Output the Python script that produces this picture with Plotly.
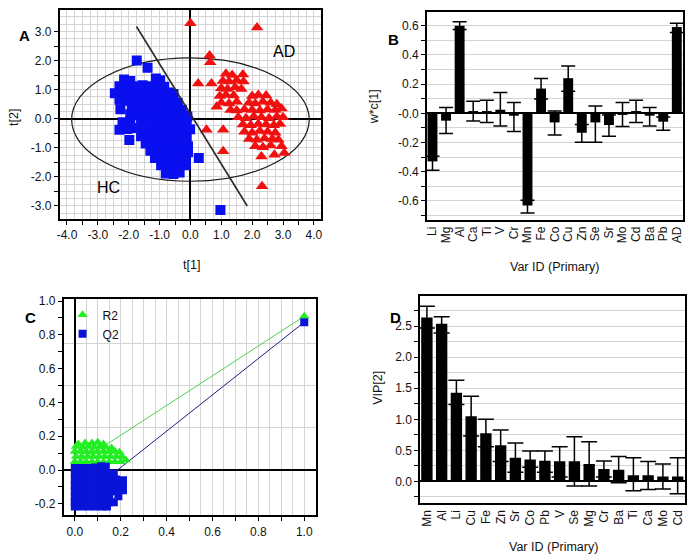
import plotly.graph_objects as go

W, H = 692, 558

# ---------------- Panel A: score plot ----------------
hc_x = [-2.15, -1.95, -1.12, -0.98,
        -2.3, -2.05, -1.8, -1.55, -1.3, -1.05, -0.85,
        -2.45, -2.2, -1.95, -1.7, -1.45, -1.2, -0.95, -0.7, -0.55,
        -2.3, -2.05, -1.8, -1.55, -1.3, -1.05, -0.8, -0.55, -0.42,
        -1.9, -1.65, -1.4, -1.15, -0.9, -0.65, -0.4, -0.28,
        -1.95, -1.7, -1.45, -1.2, -0.95, -0.7, -0.45, -0.2,
        -2.2, -1.95, -1.6, -1.35, -1.1, -0.85, -0.6, -0.35, -0.12,
        -2.3, -2.05, -1.75, -1.5, -1.25, -1.0, -0.75, -0.5, -0.25,
        -1.6, -1.35, -1.1, -0.85, -0.6, -0.35, -0.12,
        -1.45, -1.2, -0.95, -0.7, -0.45, -0.2, -0.08,
        -1.3, -1.05, -0.8, -0.55, -0.3, -0.08,
        -1.15, -0.9, -0.65, -0.4, -0.15,
        -0.95, -0.7, -0.45, -0.15,
        -0.8, -0.55, -0.35,
        -1.74, -1.39, -2.27, -1.98, 0.27, 0.97, -0.01, -0.1]
hc_y = [1.35, 1.3, 1.38, 1.32,
        1.12, 1.15, 1.12, 1.15, 1.12, 1.15, 1.1,
        0.88, 0.92, 0.9, 0.88, 0.92, 0.9, 0.88, 0.9, 0.85,
        0.65, 0.62, 0.66, 0.64, 0.66, 0.62, 0.65, 0.62, 0.55,
        0.42, 0.38, 0.4, 0.42, 0.38, 0.4, 0.36, 0.3,
        0.15, 0.12, 0.15, 0.18, 0.12, 0.15, 0.12, 0.1,
        -0.12, -0.1, -0.08, -0.12, -0.1, -0.08, -0.12, -0.1, -0.08,
        -0.38, -0.35, -0.32, -0.36, -0.34, -0.38, -0.35, -0.32, -0.36,
        -0.6, -0.62, -0.58, -0.6, -0.62, -0.58, -0.6,
        -0.85, -0.88, -0.85, -0.82, -0.88, -0.85, -0.95,
        -1.1, -1.12, -1.08, -1.1, -1.12, -1.15,
        -1.35, -1.38, -1.32, -1.36, -1.38,
        -1.6, -1.62, -1.58, -1.6,
        -1.88, -1.9, -1.85,
        2.0, 1.75, 0.33, -0.73, -1.35, -3.14, -0.36, 0.08]

ad_x = [0.0, 2.16, 0.62, 0.64, 0.25, 0.68, 0.52, 1.06, 1.06, 2.32, 0.85,
        1.15, 1.35, 1.7,
        1.05, 1.25, 1.5, 1.72,
        1.0, 1.2, 1.45, 1.65,
        0.95, 1.15, 1.4, 2.0, 2.2, 2.45,
        1.0, 1.25, 1.5, 1.9, 2.1, 2.35, 2.6, 2.8,
        1.3, 1.5, 1.75, 2.0, 2.25, 2.5, 2.75, 2.95,
        1.55, 1.8, 2.05, 2.3, 2.55, 2.8, 3.0,
        1.7, 1.95, 2.2, 2.45, 2.7, 2.9,
        1.75, 2.0, 2.25, 2.5, 2.75,
        1.9, 2.15, 2.4, 2.65, 2.85,
        2.1, 2.35, 2.6, 2.95,
        2.3, 2.72, 3.04]
ad_y = [3.28, 3.14, 2.17, 1.94, 1.21, 1.21, -0.38, -0.38, -1.12, -2.32, 0.41,
        1.55, 1.5, 1.52,
        1.3, 1.28, 1.32, 1.28,
        1.05, 1.02, 1.08, 1.02,
        0.78, 0.82, 0.8, 0.78, 0.82, 0.8,
        0.55, 0.52, 0.58, 0.55, 0.52, 0.58, 0.55, 0.5,
        0.3, 0.28, 0.32, 0.3, 0.28, 0.32, 0.3, 0.35,
        0.05, 0.02, 0.08, 0.05, 0.02, 0.08, 0.05,
        -0.2, -0.22, -0.18, -0.2, -0.22, -0.18,
        -0.45, -0.48, -0.42, -0.45, -0.48,
        -0.7, -0.72, -0.68, -0.7, -0.72,
        -0.95, -0.98, -0.92, -0.95,
        -1.3, -1.24, -1.18]

ellipse_x = [-3.85, 3.85]
ellipse_y = [-2.15, 2.09]
sep_x = [-1.75, 1.84]
sep_y = [3.17, -3.0]

# ---------------- Panel B: w*c[1] ----------------
b_cats = ["Li", "Mg", "Al", "Ca", "Ti", "V", "Cr", "Mn", "Fe", "Co", "Cu",
          "Zn", "Se", "Sr", "Mo", "Cd", "Ba", "Pb", "AD"]
b_vals = [-0.329, -0.05, 0.6, 0.016, 0.016, 0.025, -0.016, -0.632, 0.17, -0.062,
          0.241, -0.133, -0.062, -0.08, -0.006, 0.016, -0.016, -0.057, 0.591]
b_err_plus = [0.035, 0.091, 0.028, 0.067, 0.074, 0.118, 0.09, 0.037, 0.069, 0.078,
              0.083, 0.057, 0.112, 0.069, 0.08, 0.074, 0.056, 0.032, 0.027]
b_err_minus = [0.06, 0.088, 0.025, 0.069, 0.078, 0.112, 0.108, 0.051, 0.071, 0.087,
               0.089, 0.065, 0.136, 0.076, 0.084, 0.078, 0.071, 0.058, 0.037]

# ---------------- Panel C: permutation test ----------------
r2_x = [1.0,
        0.0, 0.025, 0.05, 0.075, 0.1, 0.125, 0.15, 0.175, 0.2, 0.222,
        0.005, 0.03, 0.055, 0.08, 0.105, 0.13, 0.155, 0.18, 0.205,
        0.0, 0.025, 0.05, 0.075, 0.1, 0.125, 0.15, 0.175, 0.195,
        0.005, 0.035, 0.06, 0.085, 0.11, 0.135, 0.16,
        0.015, 0.045, 0.075, 0.1, 0.125]
r2_y = [0.91,
        0.05, 0.05, 0.05, 0.05, 0.05, 0.05, 0.05, 0.05, 0.05, 0.06,
        0.08, 0.08, 0.08, 0.08, 0.08, 0.08, 0.08, 0.08, 0.08,
        0.11, 0.11, 0.11, 0.11, 0.11, 0.11, 0.11, 0.11, 0.105,
        0.14, 0.135, 0.14, 0.135, 0.14, 0.135, 0.13,
        0.155, 0.16, 0.16, 0.165, 0.155]
q2_x = [1.0,
        0.0, 0.03, 0.06, 0.09, 0.115, 0.135,
        0.0, 0.03, 0.06, 0.09, 0.12, 0.15, 0.17,
        0.0, 0.03, 0.06, 0.09, 0.12, 0.15, 0.18, 0.21,
        0.0, 0.03, 0.06, 0.09, 0.12, 0.15, 0.18, 0.21,
        0.0, 0.03, 0.06, 0.09, 0.12, 0.15, 0.18, 0.21,
        0.0, 0.03, 0.06, 0.09, 0.12, 0.15, 0.19,
        0.0, 0.03, 0.06, 0.09, 0.12, 0.15, 0.17,
        0.0, 0.03, 0.06, 0.09, 0.12, 0.14]
q2_y = [0.875,
        0.012, 0.012, 0.012, 0.015, 0.022, 0.02,
        -0.02, -0.02, -0.02, -0.02, -0.02, -0.02, -0.02,
        -0.055, -0.055, -0.055, -0.055, -0.055, -0.055, -0.055, -0.06,
        -0.09, -0.09, -0.09, -0.09, -0.09, -0.09, -0.09, -0.09,
        -0.125, -0.125, -0.125, -0.125, -0.125, -0.125, -0.125, -0.12,
        -0.16, -0.16, -0.16, -0.16, -0.16, -0.16, -0.155,
        -0.19, -0.19, -0.19, -0.19, -0.19, -0.19, -0.19,
        -0.215, -0.215, -0.215, -0.215, -0.215, -0.215]
r2_line_x = [0.0, 1.0]
r2_line_y = [0.03, 0.91]
q2_line_x = [0.0, 1.0]
q2_line_y = [-0.2, 0.875]

# ---------------- Panel D: VIP ----------------
d_cats = ["Mn", "Al", "Li", "Cu", "Fe", "Zn", "Sr", "Co", "Pb", "V", "Se",
          "Mg", "Cr", "Ba", "Ti", "Ca", "Mo", "Cd"]
d_vals = [2.64, 2.54, 1.43, 1.05, 0.775, 0.584, 0.38, 0.355, 0.335, 0.325, 0.325,
          0.28, 0.2, 0.19, 0.1, 0.1, 0.08, 0.08]
d_err_plus = [0.18, 0.11, 0.2, 0.32, 0.225, 0.246, 0.24, 0.135, 0.155, 0.235, 0.395,
              0.36, 0.13, 0.21, 0.28, 0.22, 0.2, 0.3]
d_err_minus = [0.17, 0.15, 0.19, 0.32, 0.215, 0.264, 0.23, 0.125, 0.185, 0.255, 0.4,
               0.355, 0.13, 0.21, 0.25, 0.23, 0.2, 0.28]

# ---------------- layout helpers ----------------
FONT = "Liberation Sans, Arial, sans-serif"
TXT = "#111111"
GRID = "#d4d4d4"


def dom_x(a, b):
    return [a / W, b / W]


def dom_y(top, bottom):
    return [1 - bottom / H, 1 - top / H]


def px(x):
    return x / W


def py(y):
    return 1 - y / H


def fmt1(v):
    return f"{v:.1f}"


fig = go.Figure()

# Panel A traces
fig.add_trace(go.Scatter(x=hc_x, y=hc_y, mode="markers", xaxis="x", yaxis="y",
                         marker=dict(symbol="square", size=10, color="#0a0ff0", line=dict(width=0)),
                         showlegend=False, hoverinfo="skip"))
fig.add_trace(go.Scatter(x=ad_x, y=ad_y, mode="markers", xaxis="x", yaxis="y",
                         marker=dict(symbol="triangle-up", size=11, color="#f01010", line=dict(width=0)),
                         showlegend=False, hoverinfo="skip"))
fig.add_trace(go.Scatter(x=sep_x, y=sep_y, mode="lines", xaxis="x", yaxis="y",
                         line=dict(color="#2a2a2a", width=1.6), showlegend=False, hoverinfo="skip"))

# Panel B
fig.add_trace(go.Bar(x=b_cats, y=b_vals, xaxis="x2", yaxis="y2", width=0.73,
                     marker=dict(color="black", line=dict(width=0)),
                     error_y=dict(type="data", symmetric=False, array=b_err_plus,
                                  arrayminus=b_err_minus, color="black", thickness=1.5, width=7),
                     showlegend=False, hoverinfo="skip"))

# Panel C
fig.add_trace(go.Scatter(x=r2_line_x, y=r2_line_y, mode="lines", xaxis="x3", yaxis="y3",
                         line=dict(color="#4fcf4f", width=1), showlegend=False, hoverinfo="skip"))
fig.add_trace(go.Scatter(x=q2_line_x, y=q2_line_y, mode="lines", xaxis="x3", yaxis="y3",
                         line=dict(color="#1c1c80", width=1), showlegend=False, hoverinfo="skip"))
fig.add_trace(go.Scatter(x=r2_x, y=r2_y, mode="markers", xaxis="x3", yaxis="y3", name="R2",
                         marker=dict(symbol="triangle-up", size=9, color="#22ee22", line=dict(width=0)),
                         showlegend=True, hoverinfo="skip"))
fig.add_trace(go.Scatter(x=q2_x, y=q2_y, mode="markers", xaxis="x3", yaxis="y3", name="Q2",
                         marker=dict(symbol="square", size=8, color="#0a14d8", line=dict(width=0)),
                         showlegend=True, hoverinfo="skip"))

# Panel D
fig.add_trace(go.Bar(x=d_cats, y=d_vals, xaxis="x4", yaxis="y4", width=0.77,
                     marker=dict(color="black", line=dict(width=0)),
                     error_y=dict(type="data", symmetric=False, array=d_err_plus,
                                  arrayminus=d_err_minus, color="black", thickness=1.5, width=8),
                     showlegend=False, hoverinfo="skip"))

tickfont = dict(family=FONT, size=12, color=TXT)
frame = dict(showline=True, linecolor="black", linewidth=1.5, mirror=True)

# A axes
a_xt = [v / 2 for v in range(-8, 9)]
a_yt = [v / 2 for v in range(-6, 7)]
fig.update_layout(
    xaxis=dict(domain=dom_x(57, 320), range=[-4.24, 4.22], anchor="y",
               tickmode="array", tickvals=a_xt,
               ticktext=[fmt1(v) if v == int(v) else "" for v in a_xt],
               ticks="outside", ticklen=4, tickcolor="black", tickfont=tickfont,
               showgrid=True, gridcolor=GRID, gridwidth=1,
               minor=dict(tickmode="linear", tick0=0, dtick=0.25, showgrid=True,
                          gridcolor=GRID, gridwidth=1, ticks=""),
               zeroline=True, zerolinecolor="black", zerolinewidth=1.5, **frame),
    yaxis=dict(domain=dom_y(5, 216), range=[-3.45, 3.74], anchor="x",
               tickmode="array", tickvals=a_yt,
               ticktext=[fmt1(v) if v == int(v) else "" for v in a_yt],
               ticks="outside", ticklen=4, tickcolor="black", tickfont=tickfont,
               showgrid=True, gridcolor=GRID, gridwidth=1,
               minor=dict(tickmode="linear", tick0=0, dtick=0.25, showgrid=True,
                          gridcolor=GRID, gridwidth=1, ticks=""),
               zeroline=True, zerolinecolor="black", zerolinewidth=1.5, **frame),
)

# B axes
b_yt = [-0.6, -0.4, -0.2, 0.0, 0.2, 0.4, 0.6]
fig.update_layout(
    xaxis2=dict(domain=dom_x(427, 685), range=[-0.41, 18.46], anchor="y2",
                type="category", tickmode="array", tickvals=b_cats, ticktext=b_cats,
                tickangle=-90, ticks="", tickfont=tickfont,
                showgrid=False, **frame),
    yaxis2=dict(domain=dom_y(7, 217), range=[-0.731, 0.695], anchor="x2",
                tickmode="array", tickvals=b_yt,
                ticktext=["-0.6", "-0.4", "-0.2", "-0.0", "0.2", "0.4", "0.6"],
                ticks="outside", ticklen=4, tickcolor="black", tickfont=tickfont,
                showgrid=True, gridcolor=GRID, gridwidth=1,
                minor=dict(tickmode="linear", tick0=0, dtick=0.1, ticks="outside", ticklen=4,
                           tickcolor="black", showgrid=True, gridcolor=GRID, gridwidth=1),
                zeroline=True, zerolinecolor="black", zerolinewidth=1.5, **frame),
)

# C axes
c_xt = [v / 10 for v in range(0, 11)]
c_yt = [v / 10 for v in range(-2, 11)]
fig.update_layout(
    xaxis3=dict(domain=dom_x(61, 315), range=[-0.049, 1.05], anchor="y3",
                tickmode="array", tickvals=c_xt,
                ticktext=[fmt1(v) if round(v * 10) % 2 == 0 else "" for v in c_xt],
                ticks="outside", ticklen=4, tickcolor="black", tickfont=tickfont,
                showgrid=True, gridcolor=GRID, gridwidth=1,
                minor=dict(tickmode="linear", tick0=0, dtick=0.05, showgrid=True,
                           gridcolor=GRID, gridwidth=1, ticks=""),
                zeroline=True, zerolinecolor="black", zerolinewidth=1.5, **frame),
    yaxis3=dict(domain=dom_y(297, 515), range=[-0.268, 1.01], anchor="x3",
                tickmode="array", tickvals=c_yt,
                ticktext=[fmt1(v) if round(v * 10) % 2 == 0 else "" for v in c_yt],
                ticks="outside", ticklen=4, tickcolor="black", tickfont=tickfont,
                showgrid=False,
                minor=dict(tickmode="array", tickvals=[0.25, 0.5, 0.75], showgrid=True,
                           gridcolor=GRID, gridwidth=1, ticks=""),
                zeroline=True, zerolinecolor="black", zerolinewidth=1.5, **frame),
)

# D axes
d_yt = [v / 4 for v in range(-1, 12)]
fig.update_layout(
    xaxis4=dict(domain=dom_x(420, 687), range=[-0.47, 17.5], anchor="y4",
                type="category", tickmode="array", tickvals=d_cats, ticktext=d_cats,
                tickangle=-90, ticks="", tickfont=tickfont,
                showgrid=False, **frame),
    yaxis4=dict(domain=dom_y(294, 503), range=[-0.355, 2.98], anchor="x4",
                tickmode="array", tickvals=d_yt,
                ticktext=[fmt1(v) if (v * 2) == int(v * 2) and v >= 0 else "" for v in d_yt],
                ticks="outside", ticklen=4, tickcolor="black", tickfont=tickfont,
                showgrid=True, gridcolor=GRID, gridwidth=1,
                zeroline=True, zerolinecolor="black", zerolinewidth=1.5, **frame),
)

# ellipse (Hotelling T2) in data coordinates of panel A
fig.add_shape(type="circle", xref="x", yref="y",
              x0=ellipse_x[0], x1=ellipse_x[1], y0=ellipse_y[0], y1=ellipse_y[1],
              line=dict(color="#1a1a1a", width=1.2), layer="between")

ann = []
lab = dict(family=FONT, size=15, color="black")
for t, x, y in [("<b>A</b>", 22, 31), ("<b>B</b>", 393, 35), ("<b>C</b>", 28, 315), ("<b>D</b>", 395, 315)]:
    ann.append(dict(text=t, x=px(x), y=py(y), xref="paper", yref="paper", showarrow=False,
                    font=lab, xanchor="center", yanchor="middle"))

ttl = dict(family=FONT, size=12.5, color=TXT)
ann += [
    dict(text="t[2]", x=px(11), y=py(113), xref="paper", yref="paper", showarrow=False,
         textangle=-90, font=ttl, xanchor="center", yanchor="middle"),
    dict(text="t[1]", x=px(190), y=py(262), xref="paper", yref="paper", showarrow=False,
         font=ttl, xanchor="center", yanchor="middle"),
    dict(text="w*c[1]", x=px(374), y=py(103), xref="paper", yref="paper", showarrow=False,
         textangle=-90, font=ttl, xanchor="center", yanchor="middle"),
    dict(text="Var ID (Primary)", x=px(556), y=py(264), xref="paper", yref="paper", showarrow=False,
         font=ttl, xanchor="center", yanchor="middle"),
    dict(text="VIP[2]", x=px(377), y=py(386), xref="paper", yref="paper", showarrow=False,
         textangle=-90, font=ttl, xanchor="center", yanchor="middle"),
    dict(text="Var ID (Primary)", x=px(555), y=py(547), xref="paper", yref="paper", showarrow=False,
         font=ttl, xanchor="center", yanchor="middle"),
    dict(text="AD", x=3.03, y=2.31, xref="x", yref="y", showarrow=False,
         font=dict(family=FONT, size=16, color="black")),
    dict(text="HC", x=-2.64, y=-2.37, xref="x", yref="y", showarrow=False,
         font=dict(family=FONT, size=16, color="black")),
]

fig.update_layout(
    width=W, height=H, margin=dict(l=0, r=0, t=0, b=0),
    paper_bgcolor="white", plot_bgcolor="white",
    font=dict(family=FONT, size=12, color=TXT),
    annotations=ann,
    showlegend=True,
    legend=dict(x=px(60), y=py(298), xanchor="left", yanchor="top",
                bgcolor="rgba(0,0,0,0)", borderwidth=0,
                font=dict(family=FONT, size=12, color=TXT),
                tracegroupgap=0, itemwidth=30),
    bargap=0.2,
)

fig.write_html("out.html", config={"displayModeBar": False},
               post_script="document.body.style.margin='0px';document.body.style.padding='0px';"
                           "document.body.style.overflow='hidden';")
